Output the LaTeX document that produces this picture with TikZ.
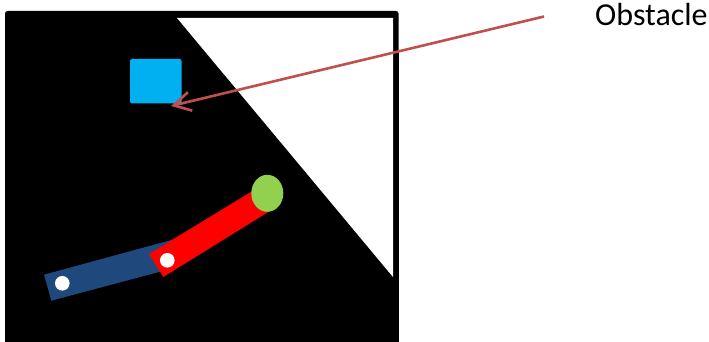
\documentclass[tikz,border=0pt]{standalone}
\usepackage{fontspec}
\setmainfont{Carlito}
\usetikzlibrary{arrows.meta,shapes.geometric}
\definecolor{skyblock}{HTML}{00B0F0}
\definecolor{linkblue}{HTML}{1F497D}
\definecolor{tipgreen}{HTML}{92D050}
\definecolor{leaderred}{HTML}{C0504D}
\tikzset{
  px/.style={x=1pt,y=-1pt},
  joint/.style={circle,fill=white,draw=none,minimum size=14.6pt,inner sep=0pt},
  leader/.style={draw=leaderred,line width=2.6pt,-{Straight Barb[length=17pt,width=19pt,line width=2.6pt]}},
  label/.style={font=\fontsize{32pt}{38pt}\selectfont,text=black,inner sep=0pt,anchor=base west},
}
\begin{document}
\begin{tikzpicture}[px]
\useasboundingbox (0,0) rectangle (709,342);
% arena
\fill[black,rounded corners=2.5pt] (5,11) rectangle (398.5,100);
\fill[black] (5,50) rectangle (398.5,342);
\fill[white] (177,18) -- (393,18) -- (393,277) -- cycle;
% obstacle
\node[fill=skyblock,draw=none,rounded corners=2pt,minimum width=51.5pt,minimum height=44.5pt,inner sep=0pt] (obstacle) at (155.75,81.25) {};
% links
\fill[linkblue] (44,274.7) -- (51.3,300.7) -- (160,271.7) -- (175,239) -- cycle;
\fill[red] (149,254) -- (163.3,277) -- (273,209) -- (259,187) -- cycle;
\node[ellipse,fill=tipgreen,draw=none,minimum width=32pt,minimum height=37pt,inner sep=0pt] (tip) at (267.3,193.3) {};
\node[joint] (jointa) at (62.3,283.3) {};
\node[joint] (jointb) at (167.3,260.3) {};
% label and leader
\node[label] (lbl) at (595,25.5) {Obstacle};
\coordinate (leaderstart) at (544,16.5);
\coordinate (leaderend) at (171,106);
\draw[leader] (leaderstart) -- (leaderend);
\end{tikzpicture}
\end{document}
